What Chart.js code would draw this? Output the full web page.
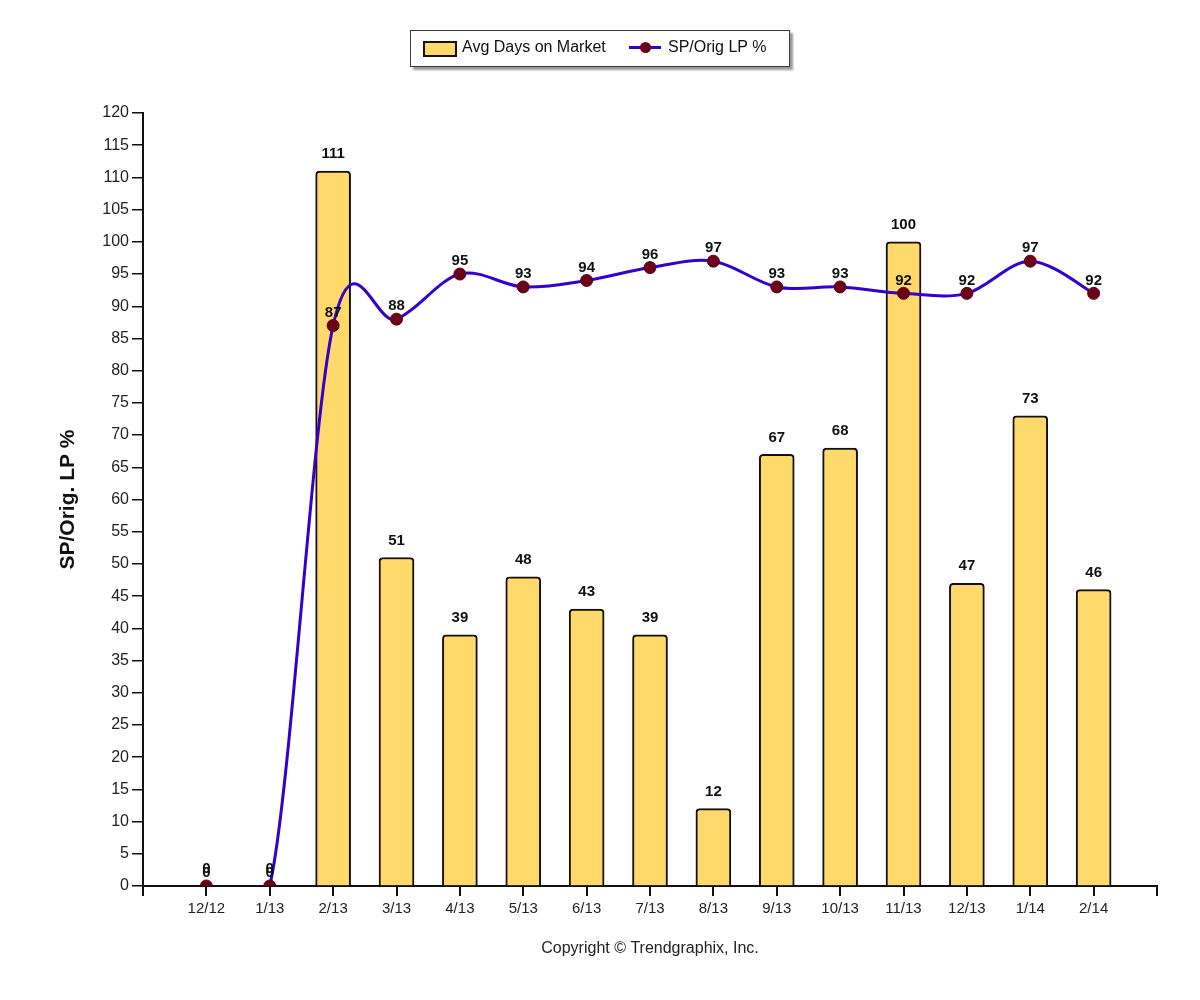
<!DOCTYPE html>
<html>
<head>
<meta charset="utf-8">
<script src="https://cdn.jsdelivr.net/npm/chart.js@4"></script>
<style>
  html, body { margin: 0; padding: 0; background: #fff; }
  #wrap { position: relative; width: 1200px; height: 1000px; }
  #legend {
    position: absolute; left: 410px; top: 30px; width: 378px; height: 35px;
    border: 1px solid #333a44; box-shadow: 3px 3px 2px #9a9a9a; background: #fff;
    font-family: "Liberation Sans", Arial, sans-serif; font-size: 16px; color: #111;
  }
  #legend .sw1 { position: absolute; left: 12px; top: 10px; width: 30px; height: 12px; background: #FFDA6B; border: 2px solid #111; }
  #legend .t1 { position: absolute; left: 51px; top: 7px; }
  #legend .ln { position: absolute; left: 218px; top: 15px; width: 32px; height: 3px; background: #3300CC; }
  #legend .dot { position: absolute; left: 229px; top: 11px; width: 11px; height: 11px; border-radius: 50%; background: #6B0018; }
  #legend .t2 { position: absolute; left: 257px; top: 7px; }
  canvas { position: absolute; left: 0; top: 0; }
</style>
</head>
<body>
<div id="wrap">
  <canvas id="c" width="1200" height="1000"></canvas>
  <div id="legend">
    <div class="sw1"></div><div class="t1">Avg Days on Market</div>
    <div class="ln"></div><div class="dot"></div><div class="t2">SP/Orig LP %</div>
  </div>
</div>
<script>
const categories = ['12/12','1/13','2/13','3/13','4/13','5/13','6/13','7/13','8/13','9/13','10/13','11/13','12/13','1/14','2/14'];
const avgDaysOnMarket = [0,0,111,51,39,48,43,39,12,67,68,100,47,73,46];
const spOrigLP = [0,0,87,88,95,93,94,96,97,93,93,92,92,97,92];
const yTicks = [0,5,10,15,20,25,30,35,40,45,50,55,60,65,70,75,80,85,90,95,100,105,110,115,120];

// pad the category axis with an empty slot at each end
const labels = [''].concat(categories, ['']);
const barData = [null].concat(avgDaysOnMarket, [null]);
const lineData = [null].concat(spOrigLP, [null]);

const FONT = '"Liberation Sans", Arial, sans-serif';

// uniform Catmull-Rom control points for the line (matches the reference's smoothing)
const catmullRom = {
  id: 'catmullRom',
  beforeDatasetDraw(chart, args) {
    if (args.index !== 1) return;
    const meta = args.meta;
    const line = meta.dataset;
    if (line && line.updateControlPoints) line.updateControlPoints(chart.chartArea, 'x');
    const pts = meta.data.filter((p, i) => lineData[i] !== null && lineData[i] !== undefined);
    const n = pts.length;
    for (let i = 0; i < n; i++) {
      const p = pts[i];
      const prev = pts[Math.max(0, i - 1)];
      const next = pts[Math.min(n - 1, i + 1)];
      const tx = (next.x - prev.x) / 2;
      const ty = (next.y - prev.y) / 2;
      p.cp1x = p.x - tx / 3; p.cp1y = p.y - ty / 3;
      p.cp2x = p.x + tx / 3; p.cp2y = p.y + ty / 3;
    }
  }
};

const valueLabels = {
  id: 'valueLabels',
  afterDatasetsDraw(chart) {
    const ctx = chart.ctx;
    ctx.save();
    ctx.font = 'bold 15px ' + FONT;
    ctx.fillStyle = '#111';
    ctx.textAlign = 'center';
    ctx.textBaseline = 'middle';
    const barMeta = chart.getDatasetMeta(0);
    barMeta.data.forEach((el, i) => {
      const v = barData[i];
      if (v === null || v === undefined) return;
      ctx.fillText(String(v), el.x, el.y - 17);
    });
    const lineMeta = chart.getDatasetMeta(1);
    lineMeta.data.forEach((el, i) => {
      const v = lineData[i];
      if (v === null || v === undefined) return;
      ctx.fillText(String(v), el.x, el.y - 13);
    });
    ctx.restore();
  }
};

new Chart(document.getElementById('c'), {
  data: {
    labels: labels,
    datasets: [
      {
        type: 'bar',
        label: 'Avg Days on Market',
        data: barData,
        backgroundColor: '#FFDA6B',
        borderColor: '#111',
        borderWidth: 2,
        borderSkipped: 'bottom',
        borderRadius: { topLeft: 4, topRight: 4, bottomLeft: 0, bottomRight: 0 },
        barThickness: 35,
        order: 2
      },
      {
        type: 'line',
        label: 'SP/Orig LP %',
        data: lineData,
        borderColor: '#3300CC',
        borderWidth: 3,
        tension: 0.4,
        pointRadius: 6,
        pointBackgroundColor: '#6B0018',
        pointBorderColor: '#5a0014',
        pointBorderWidth: 1,
        spanGaps: false,
        order: 1
      }
    ]
  },
  options: {
    responsive: false,
    animation: false,
    devicePixelRatio: 1,
    layout: { padding: { top: 113, left: 0, right: 43, bottom: 30 } },
    plugins: { legend: { display: false }, tooltip: { enabled: false } },
    scales: {
      x: {
        type: 'category',
        offset: false,
        grid: { display: true, offset: false, drawOnChartArea: false, drawTicks: true, tickLength: 10, color: '#111', lineWidth: 2 },
        border: { display: true, color: '#111', width: 2 },
        ticks: { color: '#222', font: { family: FONT, size: 15 }, padding: 4, autoSkip: false, maxRotation: 0 },
        title: { display: true, text: 'Copyright © Trendgraphix, Inc.', color: '#222', font: { family: FONT, size: 16 }, padding: { top: 10, bottom: 12 } },
        afterFit(scale) { scale.height = 1000 - 886 - 30; }
      },
      y: {
        min: 0, max: 120,
        afterBuildTicks(scale) { scale.ticks = yTicks.map(v => ({ value: v })); },
        grid: { display: true, drawOnChartArea: false, drawTicks: true, tickLength: 11, color: '#111', lineWidth: 1.5 },
        border: { display: true, color: '#111', width: 2 },
        ticks: { color: '#222', font: { family: FONT, size: 16 }, padding: 3 },
        title: { display: true, text: 'SP/Orig. LP %', color: '#111', font: { family: FONT, size: 21, weight: 'bold' }, padding: { top: 56, bottom: 0 } },
        afterFit(scale) { scale.width = 143; }
      }
    }
  },
  plugins: [catmullRom, valueLabels]
});
</script>
</body>
</html>
